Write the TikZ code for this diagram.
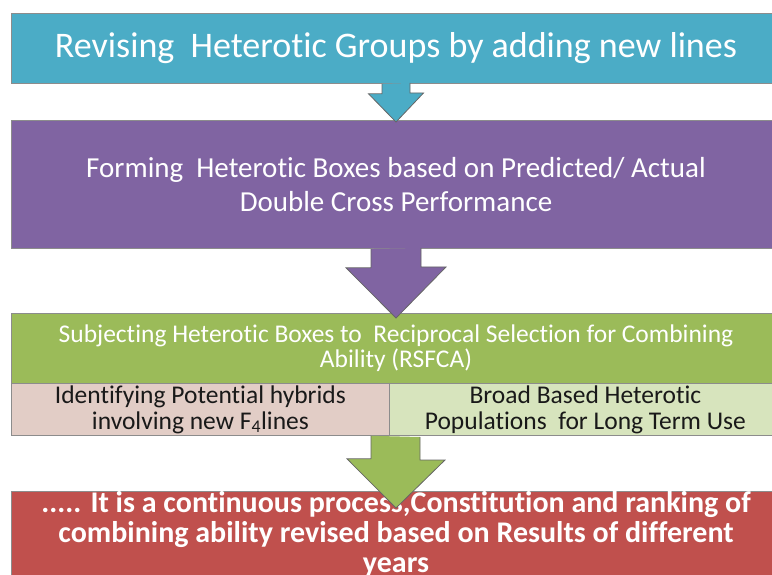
\documentclass[tikz,border=0pt]{standalone}
\usepackage{fontspec}
\setmainfont{Carlito}[Ligatures=NoCommon]
\usetikzlibrary{calc}

\definecolor{stepblue}{HTML}{4BACC6}
\definecolor{steppurple}{HTML}{8064A2}
\definecolor{stepgreen}{HTML}{9BBB59}
\definecolor{stepred}{HTML}{C0504D}
\definecolor{cellpink}{HTML}{E2CDC6}
\definecolor{cellgreen}{HTML}{D7E4BD}

\tikzset{
	stagebox/.style={draw=black!45, line width=0.8pt, inner sep=0pt, align=center,
		text=white, minimum width=770, anchor=north},
	cellbox/.style={draw=black!45, line width=0.8pt, inner sep=0pt, align=center,
		text=black!90, minimum height=52, anchor=north west},
	blockarrow/.style={draw=black!60, line width=0.8pt, line join=miter}
}

\begin{document}
\begin{tikzpicture}[x=1pt, y=-1pt]
	\useasboundingbox (0, 0) rectangle (772, 575);

	\node [stagebox, fill=stepblue, minimum height=70, font=\fontsize{36}{40}\selectfont]
		(revise) at (396, 13) {Revising\ \ Heterotic Groups by adding new lines};
	\node [stagebox, fill=steppurple, minimum height=128, font=\fontsize{29}{34}\selectfont]
		(boxes) at (396, 120) {Forming\ \ Heterotic Boxes based on Predicted/ Actual\\Double Cross Performance};
	\node [stagebox, fill=stepgreen, minimum height=70, font=\fontsize{25.5}{25}\selectfont]
		(rsfca) at (396, 313) {Subjecting Heterotic Boxes to\ \ Reciprocal Selection for Combining\\Ability (RSFCA)};
	\node [cellbox, fill=cellpink, minimum width=378, font=\fontsize{25.5}{26}\selectfont]
		(hybrids) at (11, 383) {Identifying Potential hybrids\\involving new F\textsubscript{4}lines};
	\node [cellbox, fill=cellgreen, minimum width=392, font=\fontsize{25.5}{26}\selectfont]
		(popul) at (389, 383) {Broad Based Heterotic\\Populations\ \ for Long Term Use};
	\node [stagebox, fill=stepred, minimum height=86, font=\bfseries\fontsize{30}{30}\selectfont]
		(revised) at (396, 491) {..... It is a continuous process,Constitution and ranking of\\combining ability revised based on Results of different\\years};

	% block arrows between the stages
	\draw [blockarrow, fill=stepblue]
		($(revise.south)+(-14, 0)$) -- ++(0, 10) -- ++(-13.5, 0) -- ($(boxes.north)+(0, 2)$)
		-- ++(27.5, -29) -- ++(-13.5, 0) -- ++(0, -10);
	\draw [blockarrow, fill=steppurple]
		($(boxes.south)+(-25, 0)$) -- ++(0, 19) -- ++(-25, 0) -- ($(rsfca.north)+(0, 5)$)
		-- ++(50, -51) -- ++(-25, 0) -- ++(0, -19);
	\draw [blockarrow, fill=stepgreen]
		($(revise.south|-hybrids.south)+(-25, 0)$) -- ++(0, 23) -- ++(-24, 0) -- ($(revised.north)+(0, 17)$)
		-- ++(49, -48) -- ++(-25, 0) -- ++(0, -23);
\end{tikzpicture}
\end{document}
